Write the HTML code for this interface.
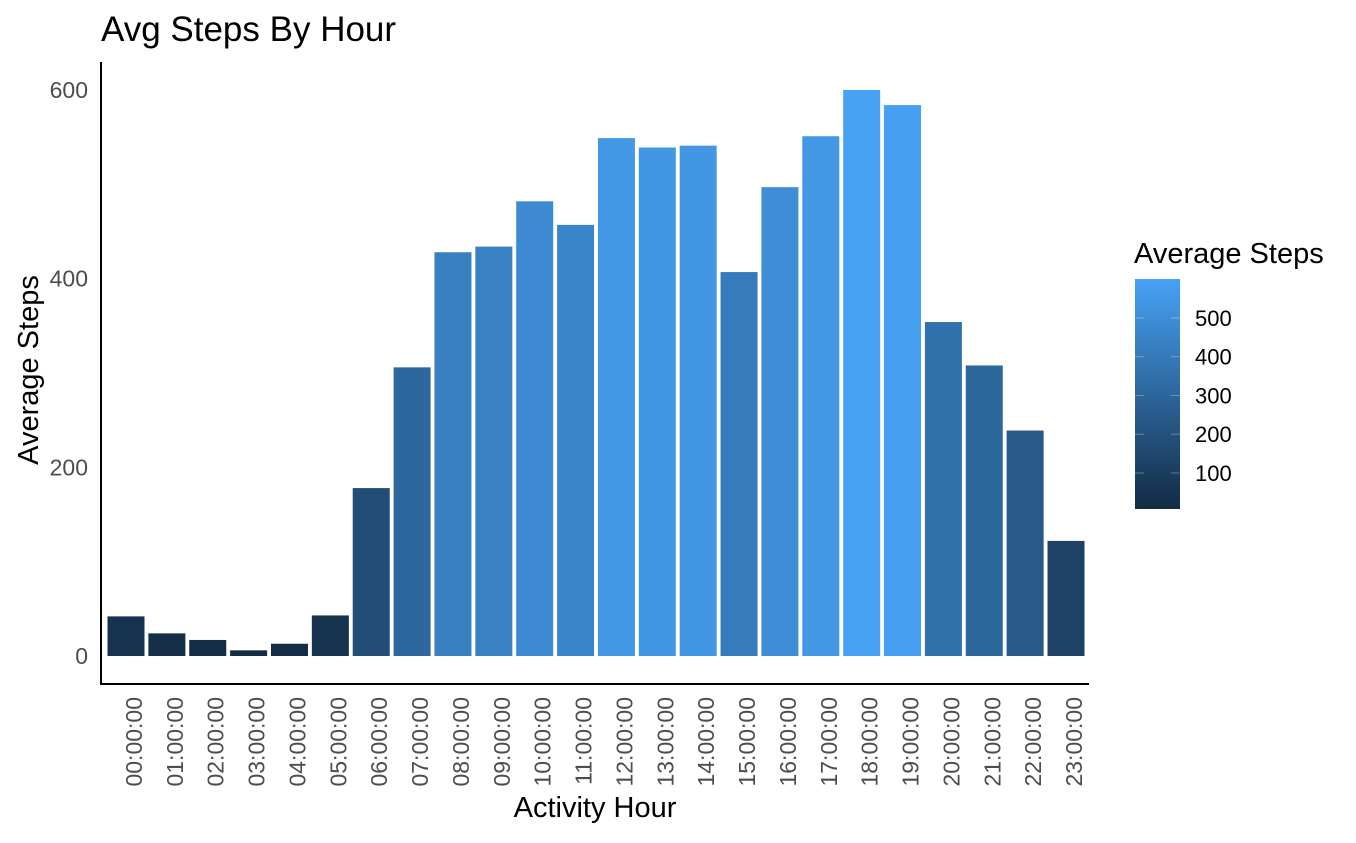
<!DOCTYPE html>
<html><head><meta charset="utf-8"><style>
body{margin:0;background:#fff;font-family:"Liberation Sans",Arial,sans-serif}
</style></head><body>
<svg width="1356" height="838" xmlns="http://www.w3.org/2000/svg" font-family="Liberation Sans, Arial, sans-serif">
<defs><linearGradient id="lg" x1="0" y1="1" x2="0" y2="0">
<stop offset="0" stop-color="#132B43"/><stop offset="1" stop-color="#47A2F5"/></linearGradient></defs>
<text x="101" y="41" font-size="35" fill="#000">Avg Steps By Hour</text>
<g id="bars"></g><g id="ylab"></g><g id="xlab"></g>
<line x1="101" y1="62" x2="101" y2="685" stroke="#000" stroke-width="2"/>
<line x1="100" y1="684" x2="1089" y2="684" stroke="#000" stroke-width="2"/>
<text transform="translate(38,370) rotate(-90)" text-anchor="middle" font-size="29">Average Steps</text>
<text x="595" y="817" text-anchor="middle" font-size="29">Activity Hour</text>
<g>
<text x="1134" y="263" font-size="29">Average Steps</text>
<rect x="1135" y="279" width="45" height="230" fill="url(#lg)"/>
<g id="leg"></g></g>
</svg>
<script>
const hours=["00:00:00","01:00:00","02:00:00","03:00:00","04:00:00","05:00:00","06:00:00","07:00:00","08:00:00","09:00:00","10:00:00","11:00:00","12:00:00","13:00:00","14:00:00","15:00:00","16:00:00","17:00:00","18:00:00","19:00:00","20:00:00","21:00:00","22:00:00","23:00:00"];
const steps=[42,24,17,6,13,43,178,306,428,434,482,457,549,539,541,407,497,551,600,584,354,308,239,122];
const yTicks=[0,200,400,600];
const legTicks=[100,200,300,400,500];
const NS="http://www.w3.org/2000/svg";
const y0=656,yk=566/600;
const y=v=>y0-v*yk;
const step=40.87,bw=37,x0=126;
const x=i=>x0+i*step;
const mn=Math.min(...steps),mx=Math.max(...steps);
function col(v){const t=(v-mn)/(mx-mn);const a=[19,43,67],b=[71,162,245];
return "rgb("+a.map((c,k)=>Math.round(c+(b[k]-c)*t)).join(",")+")";}
const bars=document.getElementById('bars');
steps.forEach((v,i)=>{const r=document.createElementNS(NS,'rect');
r.setAttribute('x',x(i)-bw/2);r.setAttribute('y',y(v));r.setAttribute('width',bw);r.setAttribute('height',y(0)-y(v));r.setAttribute('fill',col(v));


bars.appendChild(r);});
const yl=document.getElementById('ylab');
yTicks.forEach(t=>{const e=document.createElementNS(NS,'text');e.setAttribute('x',88);e.setAttribute('y',y(t)+8);e.setAttribute('text-anchor','end');e.setAttribute('font-size','23');e.setAttribute('fill','#4d4d4d');e.textContent=t;


yl.appendChild(e);});
const xl=document.getElementById('xlab');
hours.forEach((h,i)=>{const e=document.createElementNS(NS,'text');e.setAttribute('transform','translate('+(x(i)+16)+',697) rotate(-90)');e.setAttribute('text-anchor','end');e.setAttribute('font-size','23');e.setAttribute('fill','#4d4d4d');e.textContent=h;


xl.appendChild(e);});
const lg=document.getElementById('leg');
const ly=v=>509-(v-7)*(230/(600.6-7));
legTicks.forEach(t=>{const yy=ly(t);
['1135','1171'].forEach(xx=>{const l=document.createElementNS(NS,'line');l.setAttribute('x1',xx);l.setAttribute('x2',+xx+9);l.setAttribute('y1',yy);l.setAttribute('y2',yy);l.setAttribute('stroke','#fff');l.setAttribute('stroke-opacity','0.3');l.setAttribute('stroke-width','1');


lg.appendChild(l);});
const e=document.createElementNS(NS,'text');e.setAttribute('x',1195);e.setAttribute('y',yy+8);e.setAttribute('font-size','22');e.textContent=t;


lg.appendChild(e);});
</script>
</body></html>
